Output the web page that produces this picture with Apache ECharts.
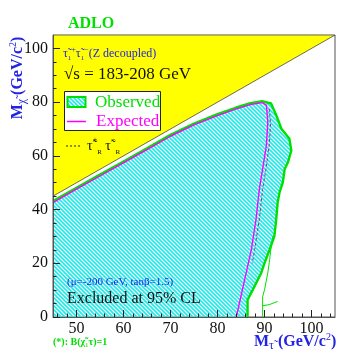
<!DOCTYPE html>
<html lang="en">
<head>
<meta charset="UTF-8">
<title>ADLO stau exclusion</title>
<style>html,body{margin:0;padding:0;background:#fff}</style>
</head>
<body>
<div id="main" style="width:353px;height:353px"></div>
<script src="https://cdn.jsdelivr.net/npm/echarts@6/dist/echarts.min.js"></script>
<script>
  // tick labels
  const xTickLabels = [50, 60, 70, 80, 90, 100]
  const yTickLabels = [0, 20, 40, 60, 80, 100]

  // kinematically forbidden region (M_chi > M_stau)
  const kinematicLimit = [[45, 45], [105, 105], [45, 105]]

  // excluded region contours
  const upperEdge = [[45, 43.2], [50, 48.1], [55, 53], [60, 57.9], [65, 62.8], [70, 67.8], [75, 72],
    [80, 75.5], [84, 78], [87, 79.6], [89.5, 80.4], [91.4, 79.5]]
  const observedRight = [[92.5, 75.1], [93.6, 70.1], [95.3, 66.4], [95.7, 62], [95, 57.6], [94.3, 55.1],
    [93.9, 50.1], [93.2, 46.4], [92.8, 42.6], [92.5, 36.4], [92.1, 30.1], [91.1, 25.1], [90, 20.1],
    [89.3, 16.4], [87.5, 10.1], [86.4, 6.4], [86.4, 0]]
  const observedThin = [[91.8, 30], [91.4, 26.2], [91.1, 21.4], [90.7, 16.4], [90, 10.1], [89.6, 7.6], [89.6, 0], '-',
    [89.6, 4.2], [91, 4.6], [92.8, 5.8]]
  const expectedUpper = [[45, 42.6], [50, 47.6], [55, 52.5], [60, 57.4], [65, 62.3], [70, 67.3], [75, 71.5],
    [80, 75], [84, 77.5], [87, 79.1], [89.5, 79.8]]
  const expectedRight = [[90.4, 78.9], [90.7, 72.6], [90.4, 63.9], [89.6, 55.1], [88.9, 47.6], [88.2, 36.4],
    [87.2, 25.1], [86.1, 16.4], [84, 0]]
  const stauRDashed = [[91, 77.5], [91.3, 72], [91, 64], [90.3, 55], [89.6, 47.5], [88.9, 36.4], [87.9, 25], [87.4, 20]]

  const observedLine = upperEdge.concat(observedRight)
  const expectedLine = expectedUpper.concat(expectedRight)
  const excludedArea = [[45, 0]].concat(observedLine)

  const xMinorTicks = []
  for (let v = 46; v < 105; v += 2) if (v % 10 !== 0) xMinorTicks.push(v)
  const yMinorTicks = []
  for (let v = 5; v < 105; v += 5) if (v % 20 !== 0) yMinorTicks.push(v)

  // cyan hatch
  const hatch = document.createElement('canvas')
  hatch.width = 4
  hatch.height = 4
  const g = hatch.getContext('2d')
  g.strokeStyle = '#20e8e8'
  g.lineWidth = 1.6
  for (const k of [-4, 0, 4]) {
    g.beginPath()
    g.moveTo(k - 1, -1)
    g.lineTo(k + 5, 5)
    g.stroke()
  }
  const hatchFill = { image: hatch, repeat: 'repeat' }

  const serif = "'Liberation Serif', 'DejaVu Serif', serif"
  const blue = '#2323e6'
  const green = '#00e000'
  const magenta = '#ff00ff'

  function polygonSeries(points, style, z) {
    return {
      type: 'custom',
      coordinateSystem: 'cartesian2d',
      silent: true,
      clip: true,
      z: z,
      data: points.map(p => p.slice()),
      renderItem: function (params, api) {
        if (params.dataIndex !== 0) return null
        return {
          type: 'polygon',
          shape: { points: points.map(p => api.coord(p)) },
          style: style
        }
      }
    }
  }

  function lineSeries(data, color, width, type, z) {
    return {
      type: 'line',
      data: data,
      showSymbol: false,
      silent: true,
      connectNulls: false,
      z: z,
      lineStyle: { color: color, width: width, type: type || 'solid' }
    }
  }

  const sub = { fontSize: 10, verticalAlign: 'bottom', lineHeight: 20, fontFamily: serif }
  const sup = { fontSize: 10, verticalAlign: 'top', lineHeight: 20, fontFamily: serif }

  const labels = [
    { type: 'text', left: 68, top: 16, style: { text: 'ADLO', fill: green, font: 'bold 16px ' + serif } },
    {
      type: 'text', x: 18, y: 78, rotation: Math.PI / 2,
      style: {
        text: 'M{d|χ̃} (GeV/c{u|2})', fill: blue, font: 'bold 16px ' + serif,
        align: 'center', verticalAlign: 'middle',
        rich: { d: Object.assign({}, sub, { fill: blue, fontSize: 12 }), u: Object.assign({}, sup, { fill: blue }) }
      }
    },
    {
      type: 'text', left: 63, top: 46,
      style: {
        text: 'τ̃{d|1}{u|+}τ̃{d|1}{u|−}(Z decoupled)', fill: blue, font: '12px ' + serif,
        rich: { d: Object.assign({}, sub, { fill: blue, fontSize: 7, lineHeight: 16 }), u: Object.assign({}, sup, { fill: blue, fontSize: 8, lineHeight: 16 }) }
      }
    },
    { type: 'text', left: 64, top: 66, style: { text: '√s = 183-208 GeV', fill: '#111', font: '17px ' + serif } },
    { type: 'rect', shape: { x: 64.5, y: 91.5, width: 96, height: 39 }, style: { fill: '#fff', stroke: '#222', lineWidth: 1 } },
    { type: 'rect', shape: { x: 67.5, y: 97, width: 18, height: 10 }, style: { fill: hatchFill, stroke: green, lineWidth: 2 } },
    { type: 'text', x: 95, y: 102.5, style: { text: 'Observed', fill: green, font: '17px ' + serif, verticalAlign: 'middle' } },
    { type: 'line', shape: { x1: 67, y1: 121.5, x2: 86, y2: 121.5 }, style: { stroke: magenta, lineWidth: 1.5 } },
    { type: 'text', x: 96, y: 121.5, style: { text: 'Expected', fill: magenta, font: '17px ' + serif, verticalAlign: 'middle' } },
    { type: 'line', shape: { x1: 66, y1: 146, x2: 81, y2: 146 }, style: { stroke: '#222', lineWidth: 1, lineDash: [2, 2] } },
    {
      type: 'text', x: 87, y: 146,
      style: {
        text: 'τ̃{u|+}{d|R} τ̃{u|−}{d|R}', fill: '#111', font: '14px ' + serif, verticalAlign: 'middle',
        rich: { d: Object.assign({}, sub, { fill: '#111', fontSize: 7 }), u: Object.assign({}, sup, { fill: '#111', fontSize: 8 }) }
      }
    },
    { type: 'text', left: 67, top: 277, style: { text: '(μ=-200 GeV, tanβ=1.5)', fill: blue, font: '11px ' + serif } },
    { type: 'text', left: 67, top: 291, style: { text: 'Excluded at 95% CL', fill: '#111', font: '16px ' + serif } },
    {
      type: 'text', x: 53, y: 342,
      style: {
        text: '(*): B(χ̃{d|1}τ)=1', fill: green, font: 'bold 10px ' + serif, verticalAlign: 'middle',
        rich: { d: Object.assign({}, sub, { fill: green, fontSize: 7, lineHeight: 14 }) }
      }
    },
    {
      type: 'text', x: 254, y: 342,
      style: {
        text: 'M{d|τ̃} (GeV/c{u|2})', fill: blue, font: 'bold 16px ' + serif, verticalAlign: 'middle',
        rich: { d: Object.assign({}, sub, { fill: blue, fontSize: 12 }), u: Object.assign({}, sup, { fill: blue }) }
      }
    }
  ]
  labels.forEach(el => { el.z = 100 })

  const chart = echarts.init(document.getElementById('main'))

  chart.setOption({
    animation: false,
    grid: { left: 53, right: 18, top: 35, bottom: 36, show: true, borderColor: '#555', borderWidth: 1 },
    xAxis: [
      {
        type: 'value', min: 45, max: 105, position: 'bottom', z: 10,
        axisLine: { show: true, lineStyle: { color: '#555' } },
        axisTick: { show: true, inside: true, length: 7, customValues: xTickLabels, lineStyle: { color: '#222' } },
        axisLabel: { customValues: xTickLabels, color: '#111', fontFamily: serif, fontSize: 16, margin: 4 },
        splitLine: { show: false }
      },
      {
        type: 'value', min: 45, max: 105, position: 'bottom', z: 10,
        axisLine: { show: false },
        axisTick: { show: true, inside: true, length: 3.5, customValues: xMinorTicks, lineStyle: { color: '#222' } },
        axisLabel: { show: false },
        splitLine: { show: false }
      }
    ],
    yAxis: [
      {
        type: 'value', min: 0, max: 105, position: 'left', z: 10,
        axisLine: { show: true, lineStyle: { color: '#555' } },
        axisTick: { show: true, inside: true, length: 7, customValues: yTickLabels, lineStyle: { color: '#222' } },
        axisLabel: { customValues: yTickLabels, color: '#111', fontFamily: serif, fontSize: 16, margin: 5 },
        splitLine: { show: false }
      },
      {
        type: 'value', min: 0, max: 105, position: 'left', z: 10,
        axisLine: { show: false },
        axisTick: { show: true, inside: true, length: 3.5, customValues: yMinorTicks, lineStyle: { color: '#222' } },
        axisLabel: { show: false },
        splitLine: { show: false }
      }
    ],
    series: [
      polygonSeries(kinematicLimit, { fill: '#ffff00', stroke: '#444', lineWidth: 0.8 }, 1),
      polygonSeries(excludedArea, { fill: hatchFill }, 2),
      lineSeries(stauRDashed, '#993399', 1, [3, 2], 3),
      lineSeries(observedThin, green, 1, 'solid', 3),
      lineSeries(observedLine, green, 2.4, 'solid', 4),
      lineSeries(expectedLine, magenta, 1.4, 'solid', 5)
    ],
    graphic: labels
  })
</script>
</body>
</html>
